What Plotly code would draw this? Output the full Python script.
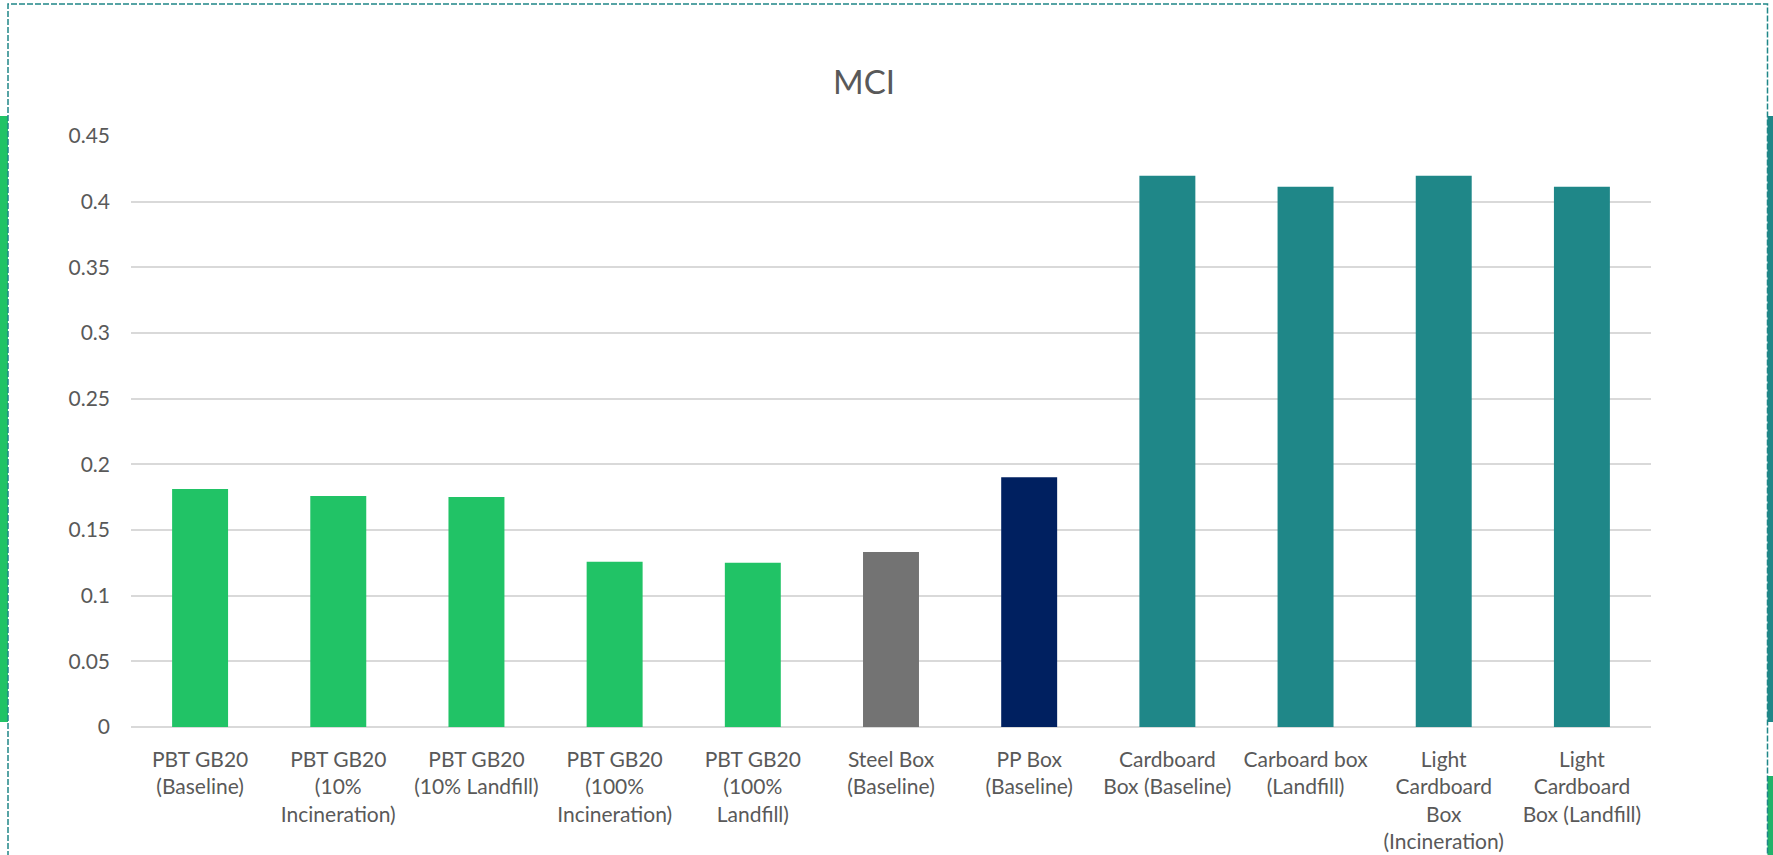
import plotly.graph_objects as go

# ---- data ----
categories = [
    "PBT GB20 (Baseline)",
    "PBT GB20 (10% Incineration)",
    "PBT GB20 (10% Landfill)",
    "PBT GB20 (100% Incineration)",
    "PBT GB20 (100% Landfill)",
    "Steel Box (Baseline)",
    "PP Box (Baseline)",
    "Cardboard Box (Baseline)",
    "Carboard box (Landfill)",
    "Light Cardboard Box (Incineration)",
    "Light Cardboard Box (Landfill)",
]
tick_labels = [
    "PBT GB20<br>(Baseline)",
    "PBT GB20<br>(10%<br>Incineration)",
    "PBT GB20<br>(10% Landfill)",
    "PBT GB20<br>(100%<br>Incineration)",
    "PBT GB20<br>(100%<br>Landfill)",
    "Steel Box<br>(Baseline)",
    "PP Box<br>(Baseline)",
    "Cardboard<br>Box (Baseline)",
    "Carboard box<br>(Landfill)",
    "Light<br>Cardboard<br>Box<br>(Incineration)",
    "Light<br>Cardboard<br>Box (Landfill)",
]
mci_values = [0.1812, 0.1758, 0.1752, 0.1258, 0.1250, 0.1332, 0.1902, 0.4197, 0.4113, 0.4197, 0.4113]
groups = ["PBT", "PBT", "PBT", "PBT", "PBT", "Steel", "PP", "Cardboard", "Cardboard", "Cardboard", "Cardboard"]
y_tick_vals = [0, 0.05, 0.1, 0.15, 0.2, 0.25, 0.3, 0.35, 0.4, 0.45]
y_tick_text = ["0", "0.05", "0.1", "0.15", "0.2", "0.25", "0.3", "0.35", "0.4", "0.45"]

# ---- styles ----
group_colors = {"PBT": "#21C366", "Steel": "#737373", "PP": "#002060", "Cardboard": "#1F8788"}
TEXT = "#595959"
FONT = "Lato"

W, H = 1773, 855
ML, MR, MT, MB = 131, 122, 136, 128
PW, PH = W - ML - MR, H - MT - MB


def px_x(px):
    return (px - ML) / PW


def px_y(py):
    return (H - MB - py) / PH


fig = go.Figure()
fig.add_trace(go.Bar(
    x=categories,
    y=mci_values,
    marker=dict(color=[group_colors[g] for g in groups], line=dict(width=0)),
    showlegend=False,
    hoverinfo="x+y",
))

shapes = [
    # left green strip
    dict(type="rect", xref="paper", yref="paper", x0=px_x(0), x1=px_x(8), y0=px_y(722), y1=px_y(116),
         fillcolor="#21C366", line=dict(width=0), layer="above"),
    # right teal strip
    dict(type="rect", xref="paper", yref="paper", x0=px_x(1767.5), x1=px_x(1774), y0=px_y(722), y1=px_y(116),
         fillcolor="#1F8788", line=dict(width=0), layer="above"),
    # right green strip (bottom)
    dict(type="rect", xref="paper", yref="paper", x0=px_x(1767.5), x1=px_x(1774), y0=px_y(860), y1=px_y(776),
         fillcolor="#21B36A", line=dict(width=0), layer="above"),
    # dashed chart-area border
    dict(type="rect", xref="paper", yref="paper", x0=px_x(8), x1=px_x(1767.5), y0=px_y(870), y1=px_y(4),
         fillcolor="rgba(0,0,0,0)", line=dict(color="#1F8788", width=1.5, dash="6px,2px"), layer="above"),
]

fig.update_layout(
    width=W, height=H,
    margin=dict(l=ML, r=MR, t=MT, b=MB, pad=0, autoexpand=False),
    paper_bgcolor="white", plot_bgcolor="white",
    bargap=0.595,
    font=dict(family=FONT, size=21, color=TEXT),
    shapes=shapes,
    annotations=[dict(
        text="MCI", xref="paper", yref="paper",
        x=px_x(864), y=px_y(80.5), xanchor="center", yanchor="middle",
        showarrow=False, font=dict(family=FONT, size=33, color=TEXT),
    )],
    xaxis=dict(
        tickmode="array", tickvals=categories, ticktext=tick_labels,
        tickangle=0, showgrid=False, showline=False, zeroline=False,
        ticks="", tickfont=dict(family=FONT, size=21, color=TEXT),
        ticklabelstandoff=18, automargin=False,
    ),
    yaxis=dict(
        range=[0, 0.45], tickmode="array", tickvals=y_tick_vals, ticktext=y_tick_text,
        showgrid=True, gridcolor="#D9D9D9", gridwidth=1.5,
        zeroline=True, zerolinecolor="#D9D9D9", zerolinewidth=1.5,
        showline=False, ticks="", tickfont=dict(family=FONT, size=21, color=TEXT),
        ticklabelstandoff=20, automargin=False,
    ),
)

fig.write_html("out.html")
